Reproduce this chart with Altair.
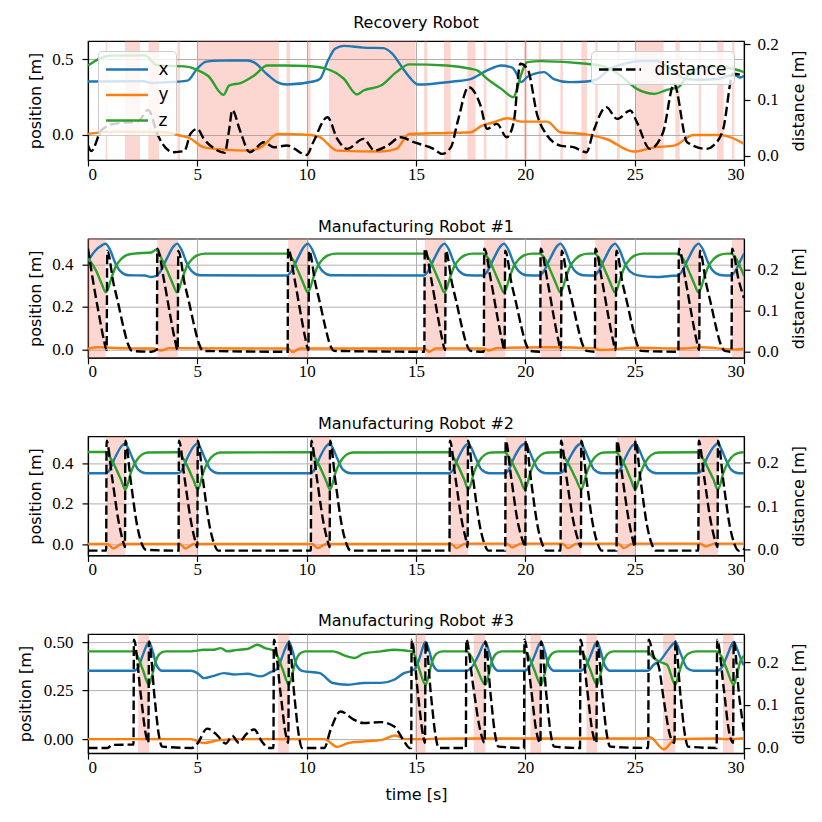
import altair as alt
import pandas as pd

# ---------------- data ----------------
TITLES = ["Recovery Robot", "Manufacturing Robot #1",
          "Manufacturing Robot #2", "Manufacturing Robot #3"]
X_TICKS = [0, 5, 10, 15, 20, 25, 30]
SERIES = ["x", "y", "z"]
SERIES_COLORS = ["#1f77b4", "#ff7f0e", "#2ca02c"]

# ----- Recovery Robot -----
P1_BAND_START = [0.81, 1.69, 2.76, 4.09, 5.03, 9.08, 10.03, 11.02, 15.37, 16.28, 17.35, 18.1,
                 19.09, 19.93, 20.61, 21.6, 22.56, 23.2, 24.19, 25.03, 26.86, 27.93, 28.77, 29.45]
P1_BAND_END = [0.88, 2.38, 3.25, 4.21, 8.73, 9.24, 10.18, 14.98, 15.52, 16.59, 17.72, 18.22,
               19.19, 20.08, 20.72, 21.72, 22.82, 23.31, 24.32, 26.33, 27.06, 28.04, 29.07, 29.56]
P1_X = [(0.0, 0.354), (2.5, 0.355), (2.9, 0.345), (3.5, 0.348), (4.55, 0.36), (5.0, 0.44), (5.4, 0.485),
        (6.0, 0.492), (7.3, 0.493), (7.6, 0.48), (8.2, 0.40), (8.65, 0.35), (9.1, 0.334), (10.3, 0.354),
        (10.6, 0.37), (11.0, 0.50), (11.3, 0.57), (11.7, 0.59), (12.6, 0.578), (13.5, 0.575), (13.9, 0.54),
        (14.4, 0.44), (14.7, 0.383), (15.1, 0.334), (16.7, 0.354), (17.5, 0.37), (18.25, 0.427),
        (18.9, 0.46), (19.4, 0.445), (19.6, 0.405), (19.8, 0.35), (20.1, 0.385), (20.4, 0.405),
        (20.85, 0.416), (21.3, 0.37), (22.0, 0.35), (22.8, 0.354), (23.3, 0.37), (23.8, 0.43),
        (24.5, 0.47), (25.3, 0.49), (26.0, 0.49), (26.5, 0.45), (26.9, 0.41), (27.3, 0.37),
        (28.0, 0.365), (28.8, 0.37), (29.3, 0.39), (29.6, 0.395), (29.8, 0.38), (30.0, 0.39)]
P1_Y = [(0.0, 0.007), (1.2, 0.022), (3.5, 0.018), (4.2, -0.004), (4.65, -0.022), (5.3, -0.082),
        (6.2, -0.097), (7.3, -0.104), (7.9, -0.082), (8.7, 0.007), (10.2, 0.0), (10.6, -0.015),
        (11.4, -0.104), (13.4, -0.11), (14.1, -0.093), (14.7, 0.007), (16.4, 0.013), (17.5, 0.018),
        (18.0, 0.06), (18.55, 0.084), (19.2, 0.11), (19.8, 0.088), (21.0, 0.088), (21.6, 0.018),
        (22.8, 0.004), (23.7, -0.027), (24.95, -0.11), (25.9, -0.082), (26.8, -0.071), (27.7, 0.0),
        (28.9, 0.0), (29.5, -0.022), (30.0, -0.06)]
P1_Z = [(0.0, 0.46), (1.0, 0.525), (2.6, 0.527), (3.15, 0.462), (4.5, 0.452), (5.0, 0.43), (5.5, 0.39),
        (6.2, 0.265), (6.45, 0.327), (7.0, 0.345), (7.6, 0.394), (8.2, 0.46), (9.0, 0.46), (10.0, 0.456),
        (10.9, 0.438), (11.7, 0.372), (12.3, 0.268), (12.6, 0.294), (13.4, 0.327), (14.1, 0.416),
        (14.7, 0.467), (16.4, 0.46), (17.5, 0.438), (17.8, 0.427), (18.25, 0.372), (18.9, 0.305),
        (19.45, 0.25), (19.6, 0.294), (19.75, 0.372), (20.1, 0.482), (20.7, 0.489), (22.8, 0.471),
        (23.7, 0.449), (24.35, 0.394), (25.1, 0.305), (25.9, 0.272), (26.5, 0.3), (27.0, 0.316),
        (27.4, 0.39), (28.2, 0.45), (28.9, 0.45), (29.7, 0.43), (30.0, 0.415)]
P1_D = [(0.0, 0.018), (0.15, 0.008), (0.6, 0.045), (1.2, 0.057), (2.3, 0.062), (2.75, 0.082), (3.2, 0.036),
        (3.6, 0.012), (3.9, 0.006), (4.4, 0.008), (4.7, 0.04), (5.0, 0.048), (5.3, 0.03), (5.8, 0.012),
        (6.25, 0.005), (6.45, 0.045), (6.6, 0.082), (6.95, 0.045), (7.4, 0.006), (8.05, 0.024),
        (8.5, 0.015), (9.1, 0.018), (10.0, 0.001), (10.3, 0.024), (10.95, 0.069), (11.4, 0.03),
        (11.85, 0.012), (12.6, 0.03), (13.1, 0.009), (13.7, 0.018), (14.3, 0.033), (14.9, 0.024),
        (15.8, 0.012), (16.2, 0.003), (16.6, 0.015), (16.9, 0.06), (17.4, 0.123), (17.95, 0.09),
        (18.25, 0.048), (18.7, 0.057), (19.15, 0.033), (19.47, 0.06), (19.77, 0.165), (20.1, 0.156),
        (20.55, 0.072), (21.0, 0.036), (21.6, 0.018), (22.2, 0.015), (22.8, 0.006), (23.1, 0.042),
        (23.7, 0.087), (24.2, 0.066), (24.8, 0.081), (25.1, 0.06), (25.7, 0.012), (26.3, 0.042),
        (26.8, 0.129), (27.4, 0.024), (28.3, 0.012), (28.6, 0.018), (29.05, 0.048), (29.5, 0.147),
        (30.0, 0.144)]

# ----- Manufacturing Robot #1 -----
P2_BAND_START = [0.0, 3.17, 9.15, 15.4, 18.12, 20.7, 23.2, 27.02, 29.45]
P2_BAND_END = [0.8, 4.13, 10.11, 16.36, 19.08, 21.66, 24.16, 27.98, 30.0]
P2_X = [(0.0, 0.415), (0.3, 0.46), (0.65, 0.49), (0.8, 0.496), (1.0, 0.47), (1.25, 0.405), (1.5, 0.365),
        (1.85, 0.348), (2.6, 0.347), (2.9, 0.34), (3.12, 0.345), (3.27, 0.36), (3.62, 0.43), (3.92, 0.485),
        (4.07, 0.497), (4.27, 0.47), (4.52, 0.405), (4.77, 0.365), (5.12, 0.348), (9.1, 0.347),
        (9.25, 0.36), (9.6, 0.43), (9.9, 0.485), (10.05, 0.497), (10.25, 0.47), (10.5, 0.405),
        (10.75, 0.365), (11.1, 0.348), (15.35, 0.347), (15.5, 0.36), (15.85, 0.43), (16.15, 0.485),
        (16.3, 0.497), (16.5, 0.47), (16.75, 0.405), (17.0, 0.365), (17.35, 0.348), (18.07, 0.347),
        (18.22, 0.36), (18.57, 0.43), (18.87, 0.485), (19.02, 0.497), (19.22, 0.47), (19.47, 0.405),
        (19.72, 0.365), (20.07, 0.348), (20.65, 0.347), (20.8, 0.36), (21.15, 0.43), (21.45, 0.485),
        (21.6, 0.497), (21.8, 0.47), (22.05, 0.405), (22.3, 0.365), (22.65, 0.348), (23.15, 0.347),
        (23.3, 0.36), (23.65, 0.43), (23.95, 0.485), (24.1, 0.497), (24.3, 0.47), (24.55, 0.405),
        (24.8, 0.365), (25.15, 0.348), (26.0, 0.34), (26.6, 0.345), (26.97, 0.347), (27.12, 0.36),
        (27.47, 0.43), (27.77, 0.485), (27.92, 0.497), (28.12, 0.47), (28.37, 0.405), (28.62, 0.365),
        (28.97, 0.348), (29.4, 0.347), (29.55, 0.36), (29.9, 0.43), (30.0, 0.45)]
P2_Y = [(0.0, 0.003), (0.5, 0.01), (1.0, 0.008), (2.0, 0.005), (3.0, 0.004), (3.35, -0.005), (3.7, 0.006),
        (9.15, 0.004), (9.35, -0.012), (9.7, 0.004), (15.4, 0.004), (15.6, -0.012), (15.9, 0.005),
        (18.1, 0.004), (18.3, -0.005), (18.7, 0.006), (21.0, 0.01), (23.2, 0.005), (23.4, -0.003),
        (25.0, 0.008), (27.2, 0.004), (28.0, 0.01), (29.6, 0.0), (30.0, 0.003)]
P2_Z = [(0.0, 0.43), (0.37, 0.37), (0.62, 0.31), (0.82, 0.268), (0.92, 0.285), (1.07, 0.335), (1.27, 0.39),
        (1.52, 0.425), (1.77, 0.443), (2.12, 0.45), (2.9, 0.455), (3.1, 0.468), (3.17, 0.462),
        (3.37, 0.425), (3.62, 0.37), (3.87, 0.31), (4.07, 0.268), (4.17, 0.285), (4.32, 0.335),
        (4.52, 0.39), (4.77, 0.425), (5.02, 0.443), (5.37, 0.45), (9.1, 0.45), (9.35, 0.425),
        (9.6, 0.37), (9.85, 0.31), (10.05, 0.268), (10.15, 0.285), (10.3, 0.335), (10.5, 0.39),
        (10.75, 0.425), (11.0, 0.443), (11.35, 0.45), (15.35, 0.45), (15.6, 0.425), (15.85, 0.37),
        (16.1, 0.31), (16.3, 0.268), (16.4, 0.285), (16.55, 0.335), (16.75, 0.39), (17.0, 0.425),
        (17.25, 0.443), (17.6, 0.45), (18.07, 0.45), (18.32, 0.425), (18.57, 0.37), (18.82, 0.31),
        (19.02, 0.268), (19.12, 0.285), (19.27, 0.335), (19.47, 0.39), (19.72, 0.425), (19.97, 0.443),
        (20.32, 0.45), (20.65, 0.45), (20.9, 0.425), (21.15, 0.37), (21.4, 0.31), (21.6, 0.268),
        (21.7, 0.285), (21.85, 0.335), (22.05, 0.39), (22.3, 0.425), (22.55, 0.443), (22.9, 0.45),
        (23.15, 0.45), (23.4, 0.425), (23.65, 0.37), (23.9, 0.31), (24.1, 0.268), (24.2, 0.285),
        (24.35, 0.335), (24.55, 0.39), (24.8, 0.425), (25.05, 0.443), (25.4, 0.45), (26.97, 0.45),
        (27.22, 0.425), (27.47, 0.37), (27.72, 0.31), (27.92, 0.268), (28.02, 0.285), (28.17, 0.335),
        (28.37, 0.39), (28.62, 0.425), (28.87, 0.443), (29.22, 0.45), (29.4, 0.45), (29.65, 0.425),
        (29.9, 0.37), (30.0, 0.345)]
P2_D = [(0.0, 0.25), (0.22, 0.175), (0.52, 0.085), (0.72, 0.03), (0.85, 0.004), (0.88, 0.245), (1.17, 0.165),
        (1.37, 0.12), (1.62, 0.06), (1.82, 0.02), (2.02, 0.002), (2.9, 0.0), (3.15, 0.005), (3.17, 0.25),
        (3.47, 0.175), (3.77, 0.085), (3.97, 0.03), (4.1, 0.004), (4.13, 0.245), (4.42, 0.165),
        (4.62, 0.12), (4.87, 0.06), (5.07, 0.02), (5.27, 0.002), (9.13, 0.0), (9.15, 0.25), (9.45, 0.175),
        (9.75, 0.085), (9.95, 0.03), (10.08, 0.004), (10.11, 0.245), (10.4, 0.165), (10.6, 0.12),
        (10.85, 0.06), (11.05, 0.02), (11.25, 0.002), (15.38, 0.0), (15.4, 0.25), (15.7, 0.175),
        (16.0, 0.085), (16.2, 0.03), (16.33, 0.004), (16.36, 0.245), (16.65, 0.165), (16.85, 0.12),
        (17.1, 0.06), (17.3, 0.02), (17.5, 0.002), (18.1, 0.0), (18.12, 0.25), (18.42, 0.175),
        (18.72, 0.085), (18.92, 0.03), (19.05, 0.004), (19.08, 0.245), (19.37, 0.165), (19.57, 0.12),
        (19.82, 0.06), (20.02, 0.02), (20.22, 0.002), (20.68, 0.0), (20.7, 0.25), (21.0, 0.175),
        (21.3, 0.085), (21.5, 0.03), (21.63, 0.004), (21.66, 0.245), (21.95, 0.165), (22.15, 0.12),
        (22.4, 0.06), (22.6, 0.02), (22.8, 0.002), (23.18, 0.0), (23.2, 0.25), (23.5, 0.175),
        (23.8, 0.085), (24.0, 0.03), (24.13, 0.004), (24.16, 0.245), (24.45, 0.165), (24.65, 0.12),
        (24.9, 0.06), (25.1, 0.02), (25.3, 0.002), (27.0, 0.0), (27.02, 0.25), (27.32, 0.175),
        (27.62, 0.085), (27.82, 0.03), (27.95, 0.004), (27.98, 0.245), (28.27, 0.165), (28.47, 0.12),
        (28.72, 0.06), (28.92, 0.02), (29.12, 0.002), (29.43, 0.0), (29.45, 0.25), (29.75, 0.175),
        (30.0, 0.13)]

# ----- Manufacturing Robot #2 -----
P3_BAND_START = [0.85, 4.16, 10.21, 16.55, 19.1, 21.63, 24.19, 27.93]
P3_BAND_END = [1.71, 5.02, 11.07, 17.38, 20.02, 22.56, 25.03, 28.81]
P3_X = [(0.0, 0.35), (0.8, 0.35), (0.95, 0.36), (1.25, 0.43), (1.55, 0.485), (1.69, 0.495), (1.85, 0.47),
        (2.05, 0.42), (2.3, 0.368), (2.65, 0.35), (4.11, 0.35), (4.26, 0.36), (4.56, 0.43), (4.86, 0.485),
        (5.0, 0.495), (5.16, 0.47), (5.36, 0.42), (5.61, 0.368), (5.96, 0.35), (10.16, 0.35),
        (10.31, 0.36), (10.61, 0.43), (10.91, 0.485), (11.05, 0.495), (11.21, 0.47), (11.41, 0.42),
        (11.66, 0.368), (12.01, 0.35), (16.5, 0.35), (16.65, 0.36), (16.95, 0.43), (17.25, 0.485),
        (17.39, 0.495), (17.55, 0.47), (17.75, 0.42), (18.0, 0.368), (18.35, 0.35), (19.05, 0.35),
        (19.2, 0.36), (19.5, 0.43), (19.82, 0.485), (19.98, 0.495), (20.14, 0.47), (20.34, 0.42),
        (20.59, 0.368), (20.94, 0.35), (21.58, 0.35), (21.73, 0.36), (22.05, 0.43), (22.38, 0.485),
        (22.54, 0.495), (22.7, 0.47), (22.9, 0.42), (23.15, 0.368), (23.5, 0.35), (24.14, 0.35),
        (24.29, 0.36), (24.59, 0.43), (24.89, 0.485), (25.03, 0.495), (25.19, 0.47), (25.39, 0.42),
        (25.64, 0.368), (25.99, 0.35), (27.88, 0.35), (28.03, 0.36), (28.33, 0.43), (28.65, 0.485),
        (28.8, 0.495), (28.96, 0.47), (29.16, 0.42), (29.41, 0.368), (29.76, 0.35), (30.0, 0.35)]
P3_Y = [(0.0, 0.002), (0.9, 0.002), (1.15, -0.02), (1.55, 0.002), (4.2, 0.002), (4.45, -0.02), (4.85, 0.002),
        (10.25, 0.002), (10.5, -0.018), (10.9, 0.002), (16.6, 0.002), (16.85, -0.018), (17.25, 0.004),
        (19.15, 0.004), (19.4, -0.015), (19.8, 0.004), (21.7, 0.004), (21.95, -0.018), (22.35, 0.004),
        (24.25, 0.004), (24.5, -0.018), (24.9, 0.004), (28.0, 0.004), (28.25, -0.01), (28.65, 0.004),
        (30.0, 0.004)]
P3_Z = [(0.0, 0.454), (0.8, 0.454), (1.0, 0.43), (1.25, 0.38), (1.5, 0.32), (1.71, 0.27), (1.8, 0.29),
        (1.95, 0.35), (2.2, 0.41), (2.45, 0.44), (2.75, 0.452), (4.11, 0.453), (4.31, 0.43), (4.56, 0.38),
        (4.81, 0.32), (5.02, 0.27), (5.11, 0.29), (5.26, 0.35), (5.51, 0.41), (5.76, 0.44), (6.06, 0.452),
        (10.16, 0.453), (10.36, 0.43), (10.61, 0.38), (10.86, 0.32), (11.07, 0.27), (11.16, 0.29),
        (11.31, 0.35), (11.56, 0.41), (11.81, 0.44), (12.11, 0.452), (16.5, 0.453), (16.7, 0.43),
        (16.95, 0.38), (17.2, 0.32), (17.4, 0.27), (17.49, 0.29), (17.64, 0.35), (17.89, 0.41),
        (18.14, 0.44), (18.44, 0.452), (19.05, 0.453), (19.25, 0.43), (19.5, 0.38), (19.77, 0.32),
        (19.98, 0.27), (20.07, 0.29), (20.22, 0.35), (20.47, 0.41), (20.72, 0.44), (21.02, 0.452),
        (21.58, 0.453), (21.78, 0.43), (22.05, 0.38), (22.32, 0.32), (22.56, 0.27), (22.65, 0.29),
        (22.8, 0.35), (23.05, 0.41), (23.3, 0.44), (23.6, 0.452), (24.14, 0.453), (24.34, 0.43),
        (24.59, 0.38), (24.82, 0.32), (25.03, 0.27), (25.12, 0.29), (25.27, 0.35), (25.52, 0.41),
        (25.77, 0.44), (26.07, 0.452), (27.88, 0.453), (28.08, 0.43), (28.33, 0.38), (28.6, 0.32),
        (28.81, 0.27), (28.9, 0.29), (29.05, 0.35), (29.3, 0.41), (29.55, 0.44), (29.85, 0.452),
        (30.0, 0.453)]
P3_D = [(0.0, -0.002), (0.83, -0.002), (0.85, 0.251), (1.1, 0.167), (1.4, 0.065), (1.61, 0.018), (1.69, 0.006),
        (1.71, 0.251), (1.95, 0.16), (2.25, 0.055), (2.45, 0.015), (2.65, 0.0), (4.14, -0.002),
        (4.16, 0.251), (4.41, 0.167), (4.71, 0.065), (4.92, 0.018), (5.0, 0.006), (5.02, 0.251),
        (5.26, 0.16), (5.56, 0.055), (5.76, 0.015), (5.96, -0.002), (10.19, -0.002), (10.21, 0.251),
        (10.46, 0.167), (10.76, 0.065), (10.97, 0.018), (11.05, 0.006), (11.07, 0.251), (11.31, 0.16),
        (11.61, 0.055), (11.81, 0.015), (12.01, -0.002), (16.53, -0.002), (16.55, 0.251), (16.8, 0.167),
        (17.1, 0.065), (17.31, 0.018), (17.36, 0.006), (17.38, 0.251), (17.62, 0.16), (17.92, 0.055),
        (18.12, 0.015), (18.32, -0.002), (19.08, -0.002), (19.1, 0.251), (19.35, 0.167), (19.65, 0.065),
        (19.9, 0.018), (20.0, 0.006), (20.02, 0.251), (20.26, 0.16), (20.56, 0.055), (20.76, 0.015),
        (20.96, -0.002), (21.61, -0.002), (21.63, 0.251), (21.88, 0.167), (22.2, 0.065), (22.44, 0.018),
        (22.54, 0.006), (22.56, 0.251), (22.8, 0.16), (23.1, 0.055), (23.3, 0.015), (23.5, -0.002),
        (24.17, -0.002), (24.19, 0.251), (24.44, 0.167), (24.74, 0.065), (24.94, 0.018), (25.01, 0.006),
        (25.03, 0.251), (25.27, 0.16), (25.57, 0.055), (25.77, 0.015), (25.97, -0.002), (27.91, -0.002),
        (27.93, 0.251), (28.18, 0.167), (28.48, 0.065), (28.7, 0.018), (28.79, 0.006), (28.81, 0.251),
        (29.05, 0.16), (29.35, 0.055), (29.55, 0.015), (29.75, -0.002), (29.95, 0.003), (30.0, 0.0)]

# ----- Manufacturing Robot #3 -----
P4_BAND_START = [2.29, 8.69, 14.95, 17.64, 20.23, 22.79, 26.3, 29.04]
P4_BAND_END = [2.79, 9.19, 15.44, 18.17, 20.72, 23.28, 26.86, 29.53]
P4_X = [(0.0, 0.352), (2.1, 0.352), (2.3, 0.37), (2.5, 0.43), (2.74, 0.495), (2.79, 0.5), (2.94, 0.46),
        (3.14, 0.38), (3.39, 0.352), (4.7, 0.352), (5.0, 0.34), (5.3, 0.314), (5.76, 0.326), (6.22, 0.34),
        (6.68, 0.333), (7.29, 0.337), (7.9, 0.323), (8.35, 0.345), (8.5, 0.352), (8.7, 0.37), (8.9, 0.43),
        (9.14, 0.495), (9.19, 0.5), (9.34, 0.46), (9.54, 0.38), (9.79, 0.352), (10.6, 0.34), (11.2, 0.289),
        (11.85, 0.28), (12.6, 0.289), (13.4, 0.29), (14.0, 0.306), (14.45, 0.34), (14.8, 0.352),
        (15.0, 0.37), (15.2, 0.43), (15.39, 0.495), (15.44, 0.5), (15.59, 0.46), (15.79, 0.38),
        (16.04, 0.352), (17.3, 0.352), (17.55, 0.37), (17.85, 0.43), (18.12, 0.495), (18.17, 0.5),
        (18.32, 0.46), (18.52, 0.38), (18.77, 0.352), (19.96, 0.352), (20.18, 0.37), (20.42, 0.43),
        (20.67, 0.495), (20.72, 0.5), (20.87, 0.46), (21.07, 0.38), (21.32, 0.352), (22.52, 0.352),
        (22.74, 0.37), (22.98, 0.43), (23.23, 0.495), (23.28, 0.5), (23.43, 0.46), (23.63, 0.38),
        (23.88, 0.352), (25.6, 0.352), (25.87, 0.383), (26.17, 0.405), (26.48, 0.452), (26.8, 0.495),
        (26.86, 0.5), (27.09, 0.443), (27.4, 0.366), (27.7, 0.352), (28.77, 0.352), (28.99, 0.37),
        (29.23, 0.43), (29.48, 0.495), (29.53, 0.5), (29.7, 0.46), (29.9, 0.4), (30.0, 0.38)]
P4_Y = [(0.0, 0.0), (4.7, 0.0), (5.3, -0.02), (6.0, -0.005), (7.0, 0.0), (10.8, 0.0), (11.4, -0.04),
        (11.9, -0.02), (12.6, -0.012), (13.4, -0.005), (14.06, 0.019), (14.5, 0.0), (17.0, 0.003),
        (20.0, 0.003), (25.4, 0.003), (25.7, 0.01), (26.33, -0.052), (26.86, 0.0), (28.8, 0.003),
        (29.2, 0.0), (30.0, 0.005)]
P4_Z = [(0.0, 0.452), (2.1, 0.452), (2.25, 0.43), (2.5, 0.36), (2.79, 0.28), (2.89, 0.31), (3.09, 0.4),
        (3.29, 0.44), (3.54, 0.452), (4.7, 0.452), (5.3, 0.46), (5.76, 0.46), (6.07, 0.469), (6.37, 0.452),
        (6.83, 0.46), (7.29, 0.464), (7.74, 0.486), (8.1, 0.469), (8.5, 0.455), (8.65, 0.43), (8.9, 0.36),
        (9.19, 0.28), (9.29, 0.31), (9.49, 0.4), (9.69, 0.44), (9.94, 0.452), (11.2, 0.452),
        (11.85, 0.426), (12.2, 0.418), (12.6, 0.44), (13.4, 0.452), (14.0, 0.46), (14.8, 0.452),
        (14.95, 0.43), (15.15, 0.36), (15.44, 0.28), (15.54, 0.31), (15.74, 0.4), (15.94, 0.44),
        (16.19, 0.452), (17.3, 0.452), (17.5, 0.43), (17.8, 0.36), (18.17, 0.28), (18.27, 0.31),
        (18.47, 0.4), (18.67, 0.44), (18.92, 0.452), (19.96, 0.452), (20.14, 0.43), (20.4, 0.36),
        (20.72, 0.28), (20.82, 0.31), (21.02, 0.4), (21.22, 0.44), (21.47, 0.452), (22.52, 0.452),
        (22.7, 0.43), (22.96, 0.36), (23.28, 0.28), (23.38, 0.31), (23.58, 0.4), (23.78, 0.44),
        (24.03, 0.452), (25.56, 0.452), (25.87, 0.418), (26.17, 0.397), (26.48, 0.383), (26.86, 0.28),
        (27.0, 0.33), (27.2, 0.4), (27.45, 0.44), (27.8, 0.452), (28.77, 0.452), (28.95, 0.43),
        (29.21, 0.36), (29.53, 0.28), (29.63, 0.31), (29.83, 0.4), (30.0, 0.43)]
P4_D = [(0.0, 0.0), (0.9, 0.0), (1.1, 0.007), (2.08, 0.008), (2.1, 0.252), (2.4, 0.13), (2.65, 0.03),
        (2.76, 0.012), (2.79, 0.248), (3.04, 0.12), (3.24, 0.03), (3.39, 0.003), (4.75, 0.0), (5.0, 0.01),
        (5.45, 0.045), (5.9, 0.03), (6.3, 0.01), (6.6, 0.028), (6.9, 0.012), (7.2, 0.03), (7.6, 0.043),
        (7.95, 0.015), (8.25, 0.0), (8.48, 0.0), (8.5, 0.252), (8.8, 0.13), (9.05, 0.03), (9.16, 0.012),
        (9.19, 0.248), (9.44, 0.12), (9.64, 0.03), (9.79, 0.0), (10.8, 0.0), (11.1, 0.043), (11.55, 0.085),
        (12.15, 0.066), (12.6, 0.058), (13.4, 0.06), (14.0, 0.05), (14.45, 0.016), (14.7, 0.0),
        (14.78, 0.0), (14.8, 0.252), (15.1, 0.12), (15.32, 0.03), (15.41, 0.012), (15.44, 0.248),
        (15.69, 0.12), (15.89, 0.03), (16.04, 0.0), (17.28, 0.0), (17.3, 0.252), (17.6, 0.15),
        (17.9, 0.05), (18.14, 0.012), (18.17, 0.248), (18.42, 0.12), (18.62, 0.03), (18.77, 0.003),
        (19.94, 0.0), (19.96, 0.252), (20.26, 0.14), (20.5, 0.04), (20.69, 0.012), (20.72, 0.248),
        (20.97, 0.12), (21.17, 0.03), (21.32, 0.003), (22.5, 0.0), (22.52, 0.252), (22.82, 0.14),
        (23.06, 0.04), (23.25, 0.012), (23.28, 0.248), (23.53, 0.12), (23.73, 0.03), (23.88, 0.003),
        (25.62, 0.0), (25.64, 0.252), (25.87, 0.213), (26.1, 0.19), (26.33, 0.112), (26.63, 0.027),
        (26.82, 0.012), (26.86, 0.248), (27.1, 0.12), (27.3, 0.03), (27.45, 0.003), (28.75, 0.0),
        (28.77, 0.252), (29.07, 0.14), (29.31, 0.04), (29.5, 0.012), (29.53, 0.248), (29.78, 0.12),
        (30.0, 0.04)]

# axis set-up per panel (domains / ticks)
POS_DOMAINS = [[-0.166, 0.622], [-0.039, 0.52], [-0.054, 0.531], [-0.072, 0.541]]
POS_TICKS = [[0.0, 0.5], [0.0, 0.2, 0.4], [0.0, 0.2, 0.4], [0.0, 0.25, 0.5]]
POS_FORMATS = [".1f", ".1f", ".1f", ".2f"]
DIST_DOMAINS = [[-0.008, 0.206], [-0.0145, 0.274], [-0.013, 0.261], [-0.012, 0.265]]
DIST_TICKS = [0.0, 0.1, 0.2]

# ---------------- styling ----------------
W, H = 656, 119
BAND_COLOR = "#f4796b"
SANS = "DejaVu Sans"
SERIF = "Liberation Serif, DejaVu Serif, serif"
LABEL_SIZE = 17
DASH = [9.5, 4]
POS_TITLE_X = [-53, -53, -53, -63]
LEG_SYMBOL = "M-1,0H3"


def to_df(pts, name):
    return pd.DataFrame({"t": [p[0] for p in pts], "v": [p[1] for p in pts],
                         "series": name, "i": list(range(len(pts)))})


def make_panel(k, bstart, bend, X, Y, Z, D, show_legend, xtitle):
    pos = pd.concat([to_df(X, "x"), to_df(Y, "y"), to_df(Z, "z")], ignore_index=True)
    dist = to_df(D, "distance")
    bands = pd.DataFrame({"start": bstart, "end": bend})
    xscale = alt.Scale(domain=[0, 30], nice=False, zero=False)
    xaxis = alt.Axis(values=X_TICKS, format="d", title=xtitle, grid=True, labelPadding=0,
                     titlePadding=11, labelFont=SERIF, labelFontSize=LABEL_SIZE)

    band_layer = alt.Chart(bands).mark_rect(color=BAND_COLOR, opacity=0.3).encode(
        x=alt.X("start:Q", scale=xscale, axis=xaxis),
        x2="end:Q",
        y=alt.value(0),
        y2=alt.value(H),
    )

    if show_legend:
        pos_legend = alt.Legend(title=None, orient="top-left", offset=9.5,
                                fillColor="rgba(255,255,255,0.8)", strokeColor="#cccccc",
                                cornerRadius=4, padding=6.5, symbolType=LEG_SYMBOL, symbolSize=441,
                                symbolStrokeWidth=2.5, labelFont=SANS, labelFontSize=17,
                                labelColor="black", labelOffset=30, rowPadding=5.5)
        dist_legend = alt.Legend(title=None, orient="top-right", offset=10,
                                 fillColor="rgba(255,255,255,0.8)", strokeColor="#cccccc",
                                 cornerRadius=4, padding=6.5, symbolType=LEG_SYMBOL, symbolSize=441,
                                 symbolStrokeWidth=2.5, symbolDash=DASH, labelFont=SANS,
                                 labelFontSize=17, labelColor="black", labelOffset=33)
    else:
        pos_legend = None
        dist_legend = None

    pos_layer = alt.Chart(pos).mark_line(strokeWidth=2.4, interpolate="monotone", clip=True).encode(
        x=alt.X("t:Q", scale=xscale, axis=xaxis),
        y=alt.Y("v:Q", scale=alt.Scale(domain=POS_DOMAINS[k], nice=False, zero=False),
                axis=alt.Axis(values=POS_TICKS[k], format=POS_FORMATS[k], title="position [m]",
                              grid=True, orient="left", labelPadding=9,
                              titleX=POS_TITLE_X[k], titleBaseline="middle",
                              labelFont=SERIF, labelFontSize=LABEL_SIZE)),
        color=alt.Color("series:N", scale=alt.Scale(domain=SERIES, range=SERIES_COLORS),
                        legend=pos_legend),
        order="i:Q",
    )

    dist_layer = alt.Chart(dist).mark_line(strokeWidth=2.4, interpolate="monotone", clip=True,
                                           strokeDash=DASH).encode(
        x=alt.X("t:Q", scale=xscale, axis=xaxis),
        y=alt.Y("v:Q", scale=alt.Scale(domain=DIST_DOMAINS[k], nice=False, zero=False),
                axis=alt.Axis(values=DIST_TICKS, format=".1f", title="distance [m]", grid=False,
                              orient="right", titleAngle=270, titleBaseline="middle",
                              titleX=54, labelPadding=7,
                              labelFont=SERIF, labelFontSize=LABEL_SIZE)),
        color=alt.Color("series:N", scale=alt.Scale(domain=["distance"], range=["black"]),
                        legend=dist_legend),
        order="i:Q",
    )

    return alt.layer(band_layer, pos_layer, dist_layer).resolve_scale(
        y="independent", color="independent"
    ).properties(width=W, height=H, title=alt.TitleParams(TITLES[k]))


panels = [
    make_panel(0, P1_BAND_START, P1_BAND_END, P1_X, P1_Y, P1_Z, P1_D, True, None),
    make_panel(1, P2_BAND_START, P2_BAND_END, P2_X, P2_Y, P2_Z, P2_D, False, None),
    make_panel(2, P3_BAND_START, P3_BAND_END, P3_X, P3_Y, P3_Z, P3_D, False, None),
    make_panel(3, P4_BAND_START, P4_BAND_END, P4_X, P4_Y, P4_Z, P4_D, False, "time [s]"),
]

chart = alt.vconcat(*panels, spacing=78.7, bounds="flush").properties(
    padding={"left": 8, "top": 6, "right": 5, "bottom": 5}
).configure_view(
    stroke="black", strokeWidth=1.2
).configure_axis(
    domainColor="black", domainWidth=1.2, tickColor="black", tickWidth=1.2, tickSize=6,
    labelFont=SERIF, labelFontSize=LABEL_SIZE, labelColor="black",
    titleFont=SANS, titleFontSize=16, titleFontWeight="normal", titleColor="black",
    gridColor="#b0b0b0", gridWidth=1, gridOpacity=1
).configure_title(
    font=SANS, fontSize=16, fontWeight="normal", color="black", offset=4, anchor="middle"
)

chart.save("out.html", embed_options={"renderer": "svg", "actions": False})
